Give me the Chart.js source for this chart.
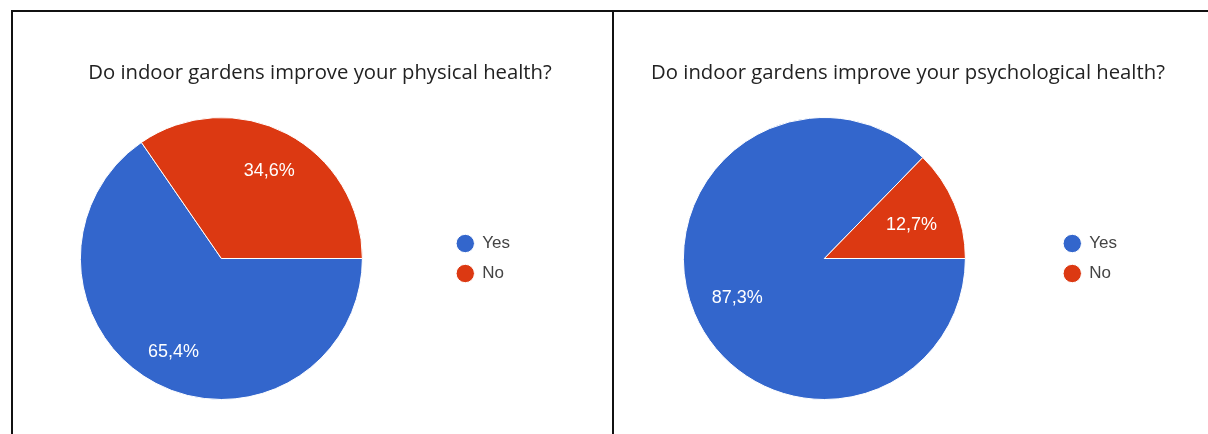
<!DOCTYPE html>
<html>
<head>
<meta charset="utf-8">
<script src="https://cdn.jsdelivr.net/npm/chart.js@4/dist/chart.umd.min.js"></script>
<style>
  html, body { margin: 0; padding: 0; background: #fff; }
  body { width: 1208px; height: 434px; overflow: hidden; position: relative; }
  .frame { position: absolute; left: 11px; top: 10px; width: 1220px; height: 440px;
           border-top: 2px solid #111; border-left: 2px solid #111; }
  .divider { position: absolute; left: 612px; top: 10px; width: 2px; height: 430px; background: #111; }
  .clip { position: absolute; top: 12px; height: 422px; overflow: hidden; }
  .clip canvas { position: absolute; top: 0; }
  .title { position: absolute; top: 59px; line-height: 24px; text-align: center;
           font-family: "Open Sans", sans-serif; font-size: 20.3px; color: #222; white-space: nowrap; }
</style>
</head>
<body>
<div class="frame"></div>
<div class="divider"></div>

<div class="clip" style="left:13px; width:599px;">
  <canvas id="physical" width="521" height="422" style="left:-14px;"></canvas>
</div>
<div class="clip" style="left:614px; width:594px;">
  <canvas id="psychological" width="529" height="422" style="left:-16px;"></canvas>
</div>

<div class="title" style="left:20px; width:600px;">Do indoor gardens improve your physical health?</div>
<div class="title" style="left:618px; width:580px;">Do indoor gardens improve your psychological health?</div>

<script>
const answers = ['Yes', 'No'];
const physicalShare = [65.4, 34.6];
const psychologicalShare = [87.3, 12.7];
const sliceColors = ['#3366cc', '#dc3912'];

// percent text inside each slice, written with a decimal comma.
// the text box is pushed in so its outer edge sits at a fixed radius
const sliceLabels = {
  id: 'sliceLabels',
  afterDatasetsDraw(chart) {
    const ctx = chart.ctx;
    const meta = chart.getDatasetMeta(0);
    const values = chart.data.datasets[0].data;
    ctx.save();
    ctx.font = '18px "Liberation Sans", Arial, sans-serif';
    ctx.fillStyle = '#fff';
    ctx.textAlign = 'center';
    ctx.textBaseline = 'alphabetic';
    meta.data.forEach((arc, i) => {
      const { x, y, startAngle, endAngle, outerRadius } = arc.getProps(['x', 'y', 'startAngle', 'endAngle', 'outerRadius'], true);
      const mid = (startAngle + endAngle) / 2;
      const text = values[i].toFixed(1).replace('.', ',') + '%';
      const halfW = ctx.measureText(text).width / 2;
      const halfH = 7;
      const reach = Math.abs(Math.cos(mid)) * halfW + Math.abs(Math.sin(mid)) * halfH;
      const r = outerRadius * 0.857 - reach;
      ctx.fillText(text, x + Math.cos(mid) * r, y + Math.sin(mid) * r + 8);
    });
    ctx.restore();
  }
};

function makePie(id, values) {
  return new Chart(document.getElementById(id), {
    type: 'pie',
    data: {
      labels: answers,
      datasets: [{
        data: values,
        backgroundColor: sliceColors,
        borderColor: '#fff',
        borderWidth: 1,
        hoverBorderWidth: 1
      }]
    },
    options: {
      responsive: false,
      animation: false,
      events: [],
      rotation: 90,
      layout: { padding: { left: 0, right: 0, top: 105, bottom: 34 } },
      plugins: {
        tooltip: { enabled: false },
        legend: {
          position: 'right',
          labels: {
            usePointStyle: true,
            pointStyle: 'circle',
            boxHeight: 13,
            padding: 13,
            color: '#444',
            font: { family: '"Liberation Sans", Arial, sans-serif', size: 17 }
          }
        }
      }
    },
    plugins: [sliceLabels]
  });
}

makePie('physical', physicalShare);
makePie('psychological', psychologicalShare);
</script>
</body>
</html>
